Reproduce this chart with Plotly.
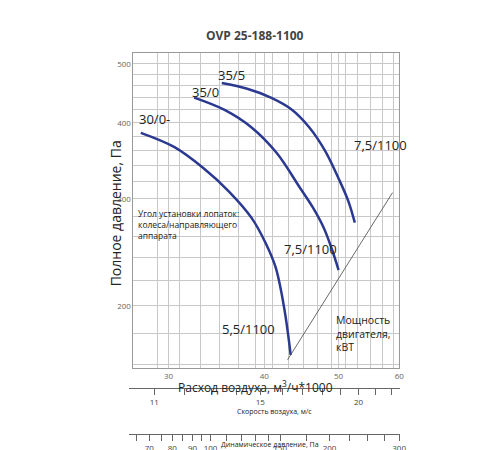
import numpy as np
import plotly.graph_objects as go

# curves: flow (m3/h*1000) vs total pressure (Pa)
c1_x = [27.6, 30.5, 33.3, 36.0, 38.5, 40.2, 41.4, 42.5, 43.3]
c1_y = [385, 365, 337, 308, 279, 253, 231, 197, 166]
c2_x = [32.4, 35.5, 38.5, 41.5, 44.5, 46.3, 47.8, 49.0, 50.0]
c2_y = [440, 420, 393, 357, 313, 290, 269, 248, 229]
c3_x = [35.2, 38.0, 40.8, 43.5, 45.8, 48.0, 50.0, 51.5, 52.5]
c3_y = [465, 455, 440, 420, 393, 360, 324, 297, 274]
power_x = [42.9, 58.8]
power_y = [163, 307]

x_grid = sorted(set(list(range(27, 61, 2)) + [30, 40, 50, 60]))
x_labels = [30, 40, 50, 60]
y_grid = list(range(160, 521, 20))
y_labels = [200, 300, 400, 500]
v_ticks = list(range(11, 23))
v_labels = [11, 15, 20]
p_ticks = [65, 70, 75, 80, 85, 90, 95, 100, 110, 120, 130, 140, 150, 175, 200, 225, 250, 275, 300]
p_labels = [70, 80, 90, 100, 150, 200, 300]

blue = "#2b3990"
fig = go.Figure()
for xs, ys in [(c1_x, c1_y), (c2_x, c2_y), (c3_x, c3_y)]:
    fig.add_trace(go.Scatter(x=xs, y=ys, mode="lines", line=dict(color=blue, width=2.5, shape="spline"), hoverinfo="skip"))
fig.add_trace(go.Scatter(x=power_x, y=power_y, mode="lines", line=dict(color="#444", width=0.8), hoverinfo="skip"))
fig.add_trace(go.Scatter(x=v_ticks, y=[1]*len(v_ticks), xaxis="x2", yaxis="y2", mode="none", hoverinfo="skip"))
fig.add_trace(go.Scatter(x=p_ticks, y=[1]*len(p_ticks), xaxis="x3", yaxis="y3", mode="none", hoverinfo="skip"))

dom = [127/500, 396/500]
sdom = [122/500, 397/500]
gc = "#c8c8c8"
fig.update_layout(
    width=500, height=450, margin=dict(l=0, r=0, t=0, b=0),
    paper_bgcolor="white", plot_bgcolor="white", showlegend=False,
    font=dict(family="Open Sans, sans-serif", color="#222"),
    xaxis=dict(type="log", domain=dom, range=[np.log10(27), np.log10(60)], anchor="y",
               tickvals=x_grid, ticktext=[str(v) if v in x_labels else "" for v in x_grid],
               showgrid=True, gridcolor=gc, ticks="", tickfont=dict(size=8, color="#666"),
               showline=True, linecolor="#999", mirror=True, zeroline=False),
    yaxis=dict(type="log", domain=[0.2, 0.9], range=[np.log10(158), np.log10(521)], anchor="x",
               tickvals=y_grid, ticktext=[str(v) if v in y_labels else "" for v in y_grid],
               showgrid=True, gridcolor=gc, ticks="", tickfont=dict(size=8, color="#666"),
               showline=True, linecolor="#999", mirror=True, zeroline=False),
    yaxis2=dict(domain=[1-380/450, 1-379/450], visible=False, range=[0, 2], anchor="x2"),
    yaxis3=dict(domain=[1-426/450, 1-425/450], visible=False, range=[0, 2], anchor="x3"),
    xaxis2=dict(type="log", domain=sdom, anchor="y2",
                range=[np.log10(10.2), np.log10(22.6)], tickvals=v_ticks,
                ticktext=[str(v) if v in v_labels else "" for v in v_ticks],
                ticks="outside", ticklen=6, tickcolor="#666", showgrid=False, showline=True,
                linecolor="#666", tickfont=dict(size=8, color="#444"), zeroline=False),
    xaxis3=dict(type="log", domain=sdom, anchor="y3",
                range=[np.log10(62), np.log10(302)], tickvals=p_ticks,
                ticktext=[str(v) if v in p_labels else "" for v in p_ticks],
                ticks="outside", ticklen=6, tickcolor="#666", showgrid=False, showline=True,
                linecolor="#666", tickfont=dict(size=8, color="#444"), zeroline=False),
)

ann = [
    dict(text="<b>OVP 25-188-1100</b>", xref="paper", yref="paper", x=0.5, y=1-17/450, font=dict(size=12, color="#444")),
    dict(text="Полное давление, Па", xref="paper", yref="paper", x=98/500, y=1-205/450, textangle=-90, font=dict(size=14)),
    dict(text="Расход воздуха, м<sup>3</sup>/ч*1000", xref="paper", yref="paper", x=0.5, y=1-390/450, font=dict(size=12)),
    dict(text="Скорость воздуха, м/с", xref="paper", yref="paper", x=270/500, y=1-410/450, font=dict(size=7)),
    dict(text="Динамическое давление, Па", xref="paper", yref="paper", x=265/500, y=1-443/450, font=dict(size=7)),
]
for t, x, y in [("30/0-", 27.3, 405), ("35/0", 32.0, 450), ("35/5", 34.6, 480),
                ("7,5/1100", 52.0, 368), ("7,5/1100", 42.2, 248), ("5,5/1100", 35.0, 183)]:
    ann.append(dict(text=t, x=np.log10(x), y=np.log10(y), xanchor="left", font=dict(size=13)))
ann.append(dict(text="Угол установки лопаток:<br>колеса/направляющего<br>аппарата", x=np.log10(27.2), y=np.log10(272),
                xanchor="left", align="left", font=dict(size=8.5)))
ann.append(dict(text="Мощность<br>двигателя,<br>кВТ", x=np.log10(49.3), y=np.log10(180),
                xanchor="left", align="left", font=dict(size=10.5)))
for a in ann:
    a["showarrow"] = False
    if "xref" not in a:
        a["xref"] = "x"; a["yref"] = "y"
fig.update_layout(annotations=ann)
fig.write_html("out.html")
